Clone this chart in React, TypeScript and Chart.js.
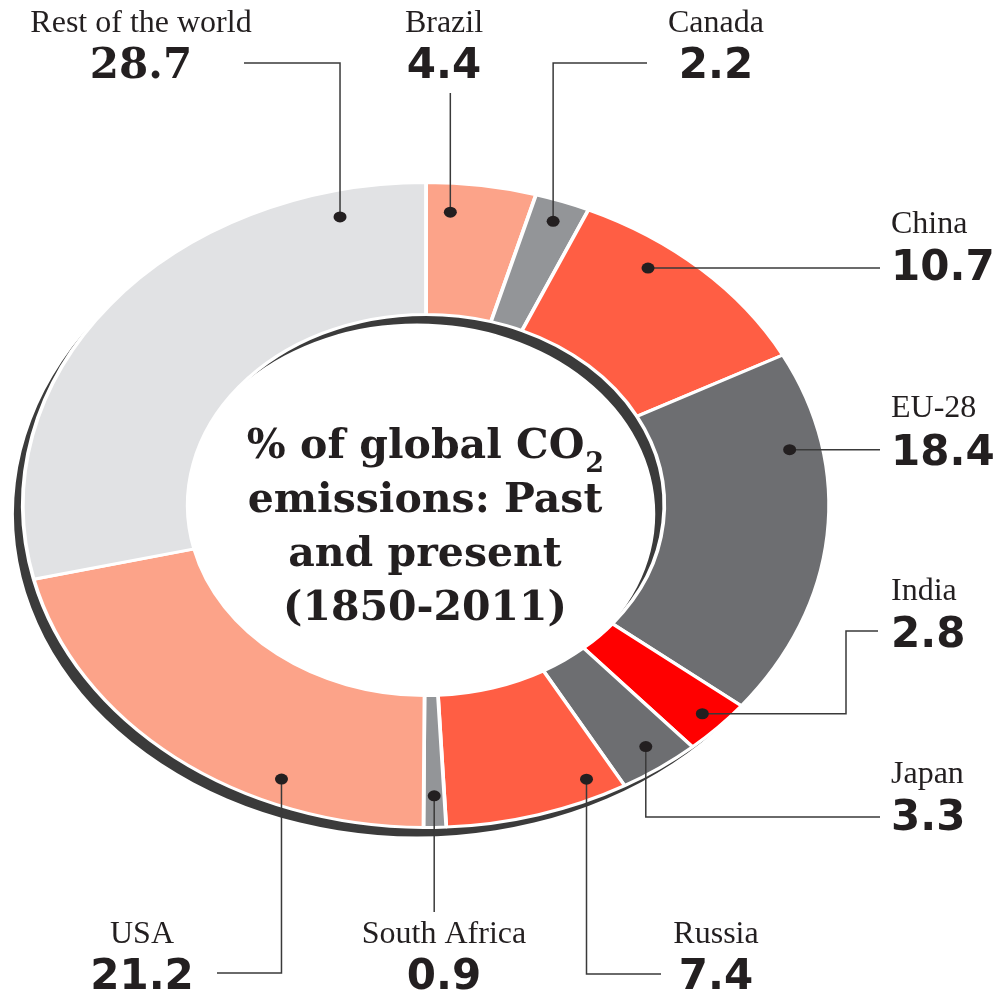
import React, { useEffect, useRef } from 'react';
import { Chart, registerables } from 'chart.js';

Chart.register(...registerables);

// ---- data ----
const countries = ['Brazil', 'Canada', 'China', 'EU-28', 'India', 'Japan', 'Russia', 'South Africa', 'USA', 'Rest of the world'];
const shares = [4.4, 2.2, 10.7, 18.4, 2.8, 3.3, 7.4, 0.9, 21.2, 28.7];
const sliceColors = ['#FCA389', '#939598', '#FF5E44', '#6D6E71', '#FF0000', '#6D6E71', '#FF5E44', '#939598', '#FCA389', '#E1E2E4'];
const titleLines = ['% of global CO', 'emissions: Past', 'and present', '(1850-2011)'];
const titleSubscript = '2';

// ---- layout (annotation placement, not data) ----
type Step = ['h' | 'v', number];
interface Note {
  dot: [number, number]; // fraction along slice angle, fraction across ring
  x: number;
  align: CanvasTextAlign;
  nameY: number;
  valueY: number;
  route: Step[];
  serifValue?: boolean;
}
const notes: Note[] = [
  { dot: [0.24, 0.78], x: 444, align: 'center', nameY: 32, valueY: 78, route: [['v', 93]] },
  { dot: [0.49, 0.84], x: 716, align: 'center', nameY: 32, valueY: 78, route: [['v', 63], ['h', 647]] },
  { dot: [0.34, 0.8], x: 891, align: 'left', nameY: 233, valueY: 280, route: [['h', 880]] },
  { dot: [0.256, 0.8], x: 891, align: 'left', nameY: 417, valueY: 465, route: [['h', 880]] },
  { dot: [0.48, 0.86], x: 891, align: 'left', nameY: 600, valueY: 647, route: [['h', 846], ['v', 631], ['h', 878]] },
  { dot: [0.45, 0.82], x: 891, align: 'left', nameY: 783, valueY: 830, route: [['v', 817], ['h', 880]] },
  { dot: [0.166, 0.85], x: 716, align: 'center', nameY: 943, valueY: 989, route: [['v', 974], ['h', 661]] },
  { dot: [0.49, 0.76], x: 444, align: 'center', nameY: 943, valueY: 989, route: [['v', 912]] },
  { dot: [0.295, 0.81], x: 142, align: 'center', nameY: 943, valueY: 989, route: [['v', 973], ['h', 217]] },
  { dot: [0.87, 0.8], x: 141, align: 'center', nameY: 32, valueY: 78, route: [['v', 63], ['h', 244]], serifValue: true },
];

const W = 1005;
const H = 992;
const CX = 426;
const CY = 505;
const R = 322.5;
const BW = 3;
const SX = 1.25; // horizontal stretch of the ring
const SHADOW_DX = -9;
const SHADOW_DY = 9;
const TEXT = '#231f20';
const TITLE_X = 425;
const TITLE_Y = [458, 512, 566, 620];

const side = 2 * R + BW;
const padLeft = CX - side / 2;
const padTop = CY - side / 2;

const ringPlugin = {
  id: 'ellipseRing',
  beforeDatasetsDraw(chart: any) {
    const ctx: CanvasRenderingContext2D = chart.ctx;
    const arc: any = chart.getDatasetMeta(0).data[0];
    ctx.save();
    ctx.translate(arc.x, 0);
    ctx.scale(SX, 1);
    ctx.translate(-arc.x, 0);
    const sx = arc.x + SHADOW_DX / SX;
    const sy = arc.y + SHADOW_DY;
    ctx.beginPath();
    ctx.arc(sx, sy, arc.outerRadius, 0, Math.PI * 2);
    ctx.moveTo(sx + arc.innerRadius, sy);
    ctx.arc(sx, sy, arc.innerRadius, Math.PI * 2, 0, true);
    ctx.fillStyle = '#3b3b3b';
    ctx.fill('evenodd');
  },
  afterDatasetsDraw(chart: any) {
    const ctx: CanvasRenderingContext2D = chart.ctx;
    ctx.restore();
    const meta = chart.getDatasetMeta(0);

    notes.forEach((n, i) => {
      const el: any = meta.data[i];
      const ang = el.startAngle + n.dot[0] * (el.endAngle - el.startAngle);
      const r = el.innerRadius + n.dot[1] * (el.outerRadius - el.innerRadius);
      const px = el.x + Math.cos(ang) * r * SX;
      const py = el.y + Math.sin(ang) * r;

      ctx.save();
      ctx.beginPath();
      ctx.moveTo(px, py);
      let cx = px;
      let cy = py;
      for (const [dir, v] of n.route) {
        if (dir === 'h') cx = v;
        else cy = v;
        ctx.lineTo(cx, cy);
      }
      ctx.strokeStyle = '#3a3a3a';
      ctx.lineWidth = 1.5;
      ctx.stroke();

      ctx.beginPath();
      ctx.ellipse(px, py, 6.5, 5.5, 0, 0, Math.PI * 2);
      ctx.fillStyle = TEXT;
      ctx.fill();

      ctx.fillStyle = TEXT;
      ctx.textAlign = n.align;
      ctx.textBaseline = 'alphabetic';
      ctx.font = '32px "Liberation Serif"';
      ctx.fillText(countries[i], n.x, n.nameY);
      ctx.font = n.serifValue ? 'bold 42px "DejaVu Serif"' : 'bold 42px "DejaVu Sans"';
      ctx.fillText(shares[i].toFixed(1), n.x, n.valueY);
      ctx.restore();
    });

    // centre title
    ctx.save();
    ctx.fillStyle = TEXT;
    ctx.textBaseline = 'alphabetic';
    const mainFont = 'bold 41px "DejaVu Serif"';
    const subFont = 'bold 27px "DejaVu Serif"';
    titleLines.forEach((line, i) => {
      if (i === 0) {
        ctx.font = mainFont;
        const w1 = ctx.measureText(line).width;
        ctx.font = subFont;
        const w2 = ctx.measureText(titleSubscript).width;
        const start = TITLE_X - (w1 + w2) / 2;
        ctx.textAlign = 'left';
        ctx.font = mainFont;
        ctx.fillText(line, start, TITLE_Y[i]);
        ctx.font = subFont;
        ctx.fillText(titleSubscript, start + w1 + 1, TITLE_Y[i] + 14);
      } else {
        ctx.font = mainFont;
        ctx.textAlign = 'center';
        ctx.fillText(line, TITLE_X, TITLE_Y[i]);
      }
    });
    ctx.restore();
  },
};

export default function App() {
  const ref = useRef<HTMLCanvasElement>(null);
  useEffect(() => {
    if (!ref.current) return;
    const chart = new Chart(ref.current, {
      type: 'doughnut',
      data: {
        labels: countries,
        datasets: [
          {
            data: shares,
            backgroundColor: sliceColors,
            borderColor: '#ffffff',
            borderWidth: BW,
            borderAlign: 'center',
            clip: false,
          } as any,
        ],
      },
      options: {
        responsive: false,
        animation: false,
        events: [],
        cutout: '59.1%',
        layout: {
          padding: {
            left: padLeft,
            top: padTop,
            right: W - padLeft - side,
            bottom: H - padTop - side,
          },
        },
        plugins: {
          legend: { display: false },
          tooltip: { enabled: false },
        },
      },
      plugins: [ringPlugin],
    });
    return () => chart.destroy();
  }, []);
  return (
    <div style={{ position: 'fixed', left: 0, top: 0, width: W, height: H, background: '#ffffff' }}>
      <canvas ref={ref} width={W} height={H} style={{ display: 'block' }} />
    </div>
  );
}
